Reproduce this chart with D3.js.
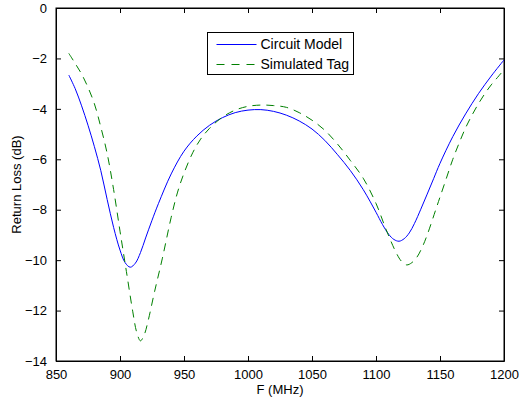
<!DOCTYPE html>
<html lang="en">
<head>
<meta charset="UTF-8" />
<title>Return Loss</title>
<script src="https://d3js.org/d3.v7.min.js"></script>
<style>
  body { margin: 0; padding: 0; background: #fff; }
  svg { display: block; font-family: "Liberation Sans", Arial, sans-serif; }
  .axis path, .axis line { stroke: #000; }
  .axis text { font-size: 13px; fill: #000; }
</style>
</head>
<body>
<svg id="chart" width="519" height="403"></svg>
<script>
// Circuit model (F in MHz, return loss in dB)
var circuitF = [860, 865, 870, 875, 880, 885, 890, 895, 900, 904, 908, 912, 916, 920, 925, 930, 940, 950,
  960, 970, 980, 990, 1000, 1010, 1020, 1030, 1040, 1050, 1060, 1070, 1080, 1090, 1100, 1105, 1110, 1114,
  1118, 1122, 1126, 1130, 1135, 1140, 1145, 1150, 1160, 1170, 1180, 1190, 1200];
var circuitDb = [-2.66, -3.2, -3.88, -4.65, -5.5, -6.45, -7.6, -8.7, -9.6, -10.1, -10.28, -10.12, -9.7,
  -9.12, -8.42, -7.76, -6.58, -5.68, -5.08, -4.65, -4.35, -4.15, -4.05, -4.03, -4.1, -4.25, -4.48, -4.8,
  -5.25, -5.82, -6.45, -7.2, -8.1, -8.58, -8.98, -9.18, -9.25, -9.15, -8.92, -8.55, -7.98, -7.38, -6.77,
  -6.16, -5.1, -4.2, -3.4, -2.7, -2.06];

// Simulated tag
var tagF = [860, 865, 870, 875, 880, 885, 890, 895, 900, 905, 910, 913, 916, 919, 922, 927, 933, 940, 945,
  950, 957, 963, 970, 980, 990, 1000, 1010, 1020, 1030, 1040, 1050, 1060, 1070, 1080, 1090, 1100, 1108,
  1116, 1120, 1124, 1128, 1132, 1136, 1140, 1147, 1150, 1155, 1160, 1165, 1170, 1175, 1180, 1185, 1190,
  1195, 1200];
var tagDb = [-1.8, -2.2, -2.62, -3.15, -3.8, -4.72, -5.78, -7.2, -8.85, -10.45, -12.05, -12.85, -13.2,
  -12.95, -12.4, -11.25, -9.95, -8.3, -7.3, -6.55, -5.72, -5.2, -4.77, -4.33, -4.05, -3.9, -3.85, -3.87,
  -3.94, -4.15, -4.45, -4.85, -5.4, -6.05, -6.75, -7.75, -8.8, -9.73, -10.05, -10.19, -10.1, -9.88, -9.5,
  -9.0, -7.95, -7.5, -6.75, -6.0, -5.35, -4.75, -4.25, -3.8, -3.4, -3.05, -2.75, -2.45];

var xTicks = [850, 900, 950, 1000, 1050, 1100, 1150, 1200];
var yTicks = [0, -2, -4, -6, -8, -10, -12, -14];
var seriesNames = ["Circuit Model", "Simulated Tag"];

var margin = { left: 56, top: 8, right: 15, bottom: 42 };
var width = 519 - margin.left - margin.right;
var height = 403 - margin.top - margin.bottom;

var svg = d3.select("#chart");
var g = svg.append("g").attr("transform", "translate(" + margin.left + "," + margin.top + ")");

var x = d3.scaleLinear().domain([850, 1200]).range([0, width]);
var y = d3.scaleLinear().domain([-14, 0]).range([height, 0]);

var fmt = function (d) { return d3.format("d")(d).replace("-", "\u2212"); };

// bottom / left with labels, top / right just ticks
g.append("g").attr("class", "axis")
  .attr("transform", "translate(0," + height + ")")
  .call(d3.axisBottom(x).tickValues(xTicks).tickSizeInner(-5).tickSizeOuter(0).tickPadding(9).tickFormat(fmt));
g.append("g").attr("class", "axis")
  .call(d3.axisLeft(y).tickValues(yTicks).tickSizeInner(-5).tickSizeOuter(0).tickPadding(9).tickFormat(fmt));
g.append("g").attr("class", "axis")
  .call(d3.axisTop(x).tickValues(xTicks).tickSizeInner(-5).tickSizeOuter(0).tickFormat(""));
g.append("g").attr("class", "axis")
  .attr("transform", "translate(" + width + ",0)")
  .call(d3.axisRight(y).tickValues(yTicks).tickSizeInner(-5).tickSizeOuter(0).tickFormat(""));

g.append("rect")
  .attr("width", width).attr("height", height)
  .attr("fill", "none").attr("stroke", "#000").attr("stroke-width", 1);

var line = d3.line()
  .x(function (d) { return x(d[0]); })
  .y(function (d) { return y(d[1]); })
  .curve(d3.curveCatmullRom.alpha(0.5));

var circuit = d3.zip(circuitF, circuitDb);
var tag = d3.zip(tagF, tagDb);

g.append("path").datum(circuit)
  .attr("d", line).attr("fill", "none").attr("stroke", "#0000ff").attr("stroke-width", 1);
g.append("path").datum(tag)
  .attr("d", line).attr("fill", "none").attr("stroke", "#008000").attr("stroke-width", 1)
  .attr("stroke-dasharray", "8,6");

// axis labels
svg.append("text")
  .attr("x", margin.left + width / 2).attr("y", 394)
  .attr("text-anchor", "middle").attr("font-size", 13).text("F (MHz)");
svg.append("text")
  .attr("transform", "translate(21," + (margin.top + height / 2) + ") rotate(-90)")
  .attr("text-anchor", "middle").attr("font-size", 13).text("Return Loss (dB)");

// legend
var legend = svg.append("g").attr("transform", "translate(207.5,32.5)");
legend.append("rect").attr("width", 146).attr("height", 42)
  .attr("fill", "#fff").attr("stroke", "#000").attr("stroke-width", 1);
var styles = [{ c: "#0000ff", dash: null }, { c: "#008000", dash: "8,7" }];
seriesNames.forEach(function (name, i) {
  var yy = 12 + i * 20;
  legend.append("line").attr("x1", 9).attr("x2", 49).attr("y1", yy).attr("y2", yy)
    .attr("stroke", styles[i].c).attr("stroke-width", 1)
    .attr("stroke-dasharray", styles[i].dash);
  legend.append("text").attr("x", 53).attr("y", yy).attr("dy", "0.35em")
    .attr("font-size", 14).text(name);
});
</script>
</body>
</html>
